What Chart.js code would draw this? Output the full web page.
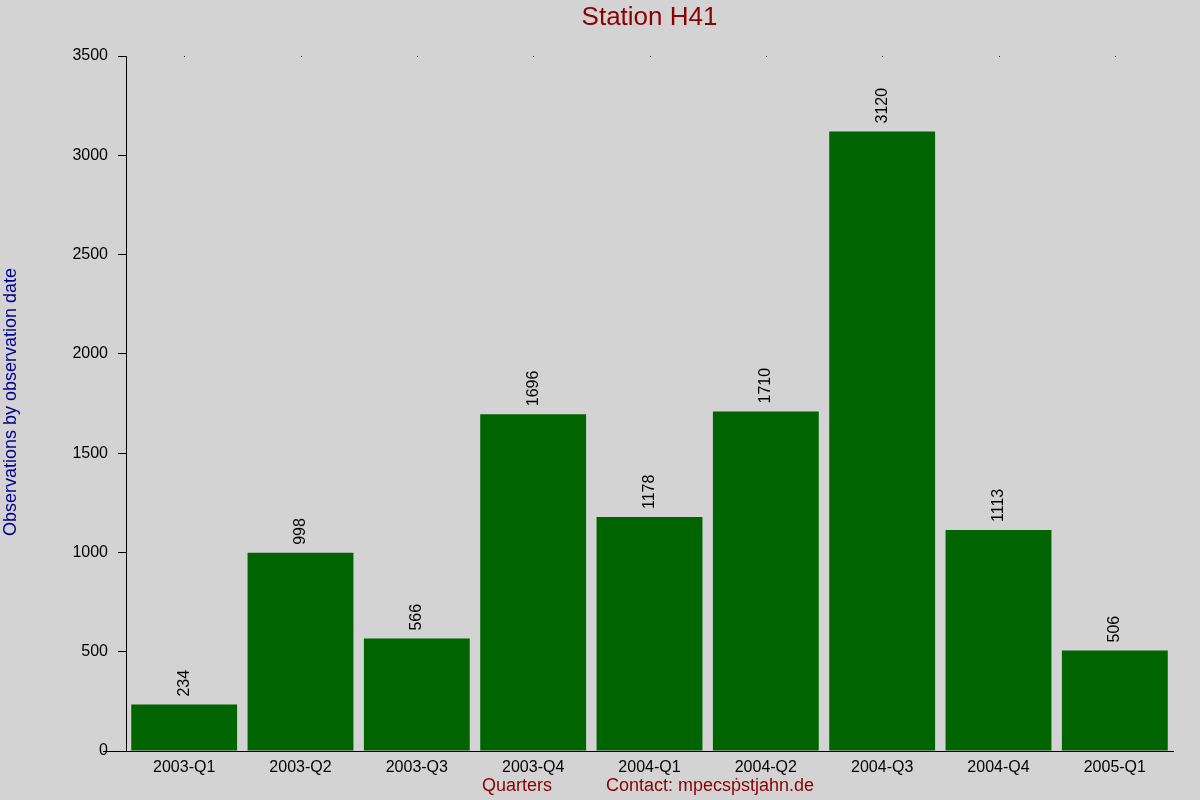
<!DOCTYPE html>
<html>
<head>
    <title>Station H41</title>
    <style>
        body {
            margin: 0;
            background: #d3d3d3;
        }
        canvas {
            display: block;
        }
    </style>
</head>
<body>
    <script src="https://cdn.jsdelivr.net/npm/chart.js"></script>
    <canvas id="myChart" width="1200" height="800"></canvas>

    <script>
        const quarters = ['2003-Q1', '2003-Q2', '2003-Q3', '2003-Q4', '2004-Q1', '2004-Q2', '2004-Q3', '2004-Q4', '2005-Q1'];
        const observations = [234, 998, 566, 1696, 1178, 1710, 3120, 1113, 506];
        const yTicks = [0, 500, 1000, 1500, 2000, 2500, 3000, 3500];

        const chartTitle = 'Station H41';
        const yTitle = 'Observations by observation date';
        const xTitle = 'Quarters';
        const contactText = 'Contact: mpecs\u1e57stjahn.de';

        const FONT = '"Liberation Sans", Arial, sans-serif';

        // background, titles, value labels and small top marks
        const decorations = {
            id: 'decorations',
            beforeDraw(chart) {
                const ctx = chart.ctx;
                ctx.save();
                ctx.fillStyle = '#d3d3d3';
                ctx.fillRect(0, 0, chart.width, chart.height);
                ctx.restore();
            },
            afterDraw(chart) {
                const ctx = chart.ctx;
                const area = chart.chartArea;
                const x = chart.scales.x;
                ctx.save();

                // title
                ctx.fillStyle = '#8b0000';
                ctx.font = '26px ' + FONT;
                ctx.textAlign = 'center';
                ctx.textBaseline = 'middle';
                ctx.fillText(chartTitle, (area.left + area.right) / 2, 18);

                // axis titles
                ctx.font = '18px ' + FONT;
                ctx.fillText(xTitle, 517, 786);
                ctx.fillText(contactText, 710, 786);

                ctx.save();
                ctx.translate(11, 402);
                ctx.rotate(-Math.PI / 2);
                ctx.fillStyle = '#00008b';
                ctx.fillText(yTitle, 0, 0);
                ctx.restore();

                // x axis line runs a little to the left of the y axis
                ctx.strokeStyle = '#000';
                ctx.lineWidth = 1;
                ctx.beginPath();
                ctx.moveTo(103, area.bottom + 0.5);
                ctx.lineTo(area.left, area.bottom + 0.5);
                ctx.stroke();

                // dots on the top edge above each category
                ctx.fillStyle = '#000';
                quarters.forEach((q, i) => {
                    ctx.fillRect(Math.round(x.getPixelForValue(i)), area.top, 1, 1);
                });

                // value labels
                const meta = chart.getDatasetMeta(0);
                ctx.font = '16px ' + FONT;
                ctx.textAlign = 'left';
                ctx.textBaseline = 'middle';
                meta.data.forEach((bar, i) => {
                    ctx.save();
                    ctx.translate(bar.x, bar.y - 8);
                    ctx.rotate(-Math.PI / 2);
                    ctx.fillText(String(observations[i]), 0, 0);
                    ctx.restore();
                });

                ctx.restore();
            }
        };

        new Chart('myChart', {
            type: 'bar',
            data: {
                labels: quarters,
                datasets: [{
                    data: observations,
                    backgroundColor: '#006400',
                    borderWidth: 0,
                    barPercentage: 0.91,
                    categoryPercentage: 1.0
                }]
            },
            options: {
                responsive: false,
                animation: false,
                devicePixelRatio: 1,
                layout: {
                    padding: { left: 0, right: 27, top: 56, bottom: 0 }
                },
                plugins: {
                    legend: { display: false },
                    title: { display: false },
                    tooltip: { enabled: false }
                },
                scales: {
                    x: {
                        afterFit(scale) { scale.height = 49; },
                        grid: { display: false, drawTicks: false },
                        border: { display: true, color: '#000', width: 1 },
                        ticks: {
                            color: '#000',
                            font: { size: 16, family: FONT },
                            padding: 7,
                            maxRotation: 0
                        }
                    },
                    y: {
                        min: 0,
                        max: 3500,
                        afterFit(scale) { scale.width = 126; },
                        afterBuildTicks(scale) {
                            scale.ticks = yTicks.map(v => ({ value: v }));
                        },
                        grid: {
                            drawOnChartArea: false,
                            drawTicks: true,
                            tickLength: 8,
                            color: '#000'
                        },
                        border: { display: true, color: '#000', width: 1 },
                        ticks: {
                            color: '#000',
                            font: { size: 16, family: FONT },
                            padding: 10,
                            callback: v => String(v)
                        }
                    }
                }
            },
            plugins: [decorations]
        });
    </script>
</body>
</html>
